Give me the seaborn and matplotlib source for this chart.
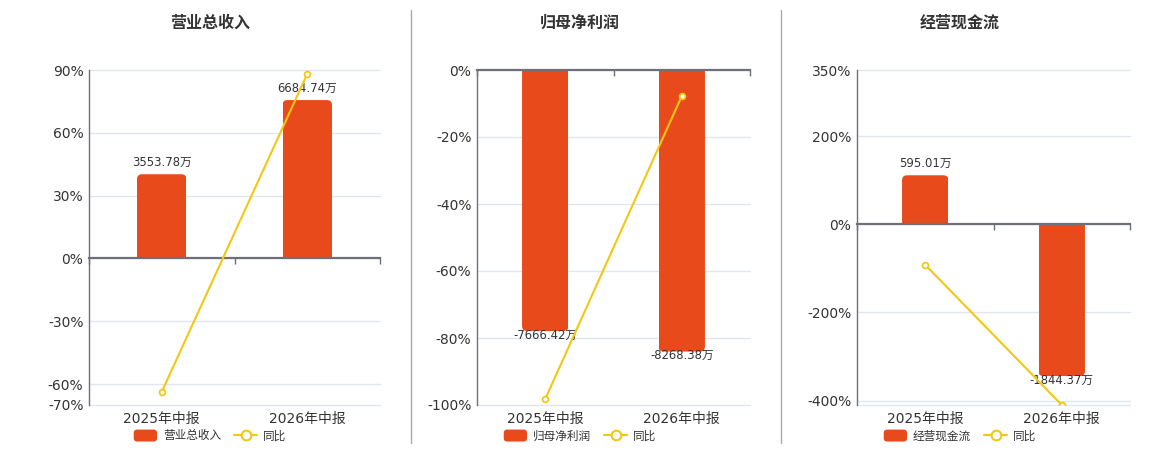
import numpy as np
import seaborn as sns
import matplotlib.pyplot as plt
from matplotlib.patches import Patch, FancyBboxPatch
from matplotlib.lines import Line2D
from matplotlib.legend_handler import HandlerPatch

# ---------------------------------
# Data
# ---------------------------------
categories = ['2025年中报', '2026年中报']
titles = ['营业总收入', '归母净利润', '经营现金流']

revenue = [3553.78, 6684.74]
revenue_yoy = [-63.7, 88.1]
profit = [-7666.42, -8268.38]
profit_yoy = [-98.2, -7.8]
cashflow = [595.01, -1844.37]
cashflow_yoy = [-92.0, -410.0]

# y-axis (percent) limits and ticks per panel
limits = [(-70, 90), (-100, 0), (-410, 350)]
yticks = [[90, 60, 30, 0, -30, -60, -70],
          [0, -20, -40, -60, -80, -100],
          [350, 200, 0, -200, -400, -410]]
hidden_ticks = [[], [], [-410]]

# ---------------------------------
# Style
# ---------------------------------
sns.set_theme(style="white")
plt.rcParams['font.family'] = ['DejaVu Sans', 'Noto Sans CJK SC']

RED = '#E84A1B'
YELLOW = '#F3C712'
AXIS = '#6E7079'
GRID = '#E0E6F1'
TEXT = '#333333'


def rounded_handle(legend, orig_handle, xdescent, ydescent, width, height, fontsize):
    """Rounded rectangle for the bar legend entry."""
    return FancyBboxPatch((-xdescent, -ydescent), width, height,
                          boxstyle="round,pad=0,rounding_size=2.5")


W, H = 1160, 450
fig = plt.figure(figsize=(W / 100, H / 100), dpi=100)

# plot areas in pixels: (left, right), shared top/bottom
areas = [(89, 380), (477, 750), (857, 1130)]
top_px, bottom_px = 70, 405
centers = [210, 580, 960]

panels = [(revenue, revenue_yoy), (profit, profit_yoy), (cashflow, cashflow_yoy)]

for i, ((vals, yoy), (lo, hi), (l_px, r_px)) in enumerate(zip(panels, limits, areas)):
    rect = [l_px / W, 1 - bottom_px / H, (r_px - l_px) / W, (bottom_px - top_px) / H]

    # grid / percent axis
    ax = fig.add_axes(rect)
    ax.set_ylim(lo, hi)
    labels = ['' if t in hidden_ticks[i] else f'{t}%' for t in yticks[i]]
    ax.set_yticks(yticks[i], labels)
    ax.grid(axis='y', color=GRID, lw=1)
    ax.grid(axis='x', visible=False)
    for gl in ax.get_ygridlines():
        gl.set_clip_on(False)
    for s in ['top', 'right', 'bottom']:
        ax.spines[s].set_visible(False)
    ax.spines['left'].set_color(AXIS)
    ax.spines['left'].set_linewidth(1)
    ax.tick_params(axis='y', length=0, pad=4, labelsize=10, labelcolor=TEXT)
    ax.tick_params(axis='x', length=0, pad=5, labelsize=10, labelcolor=TEXT)

    # bars on a hidden secondary scale, zero aligned
    axb = ax.twinx()
    sns.barplot(x=categories, y=vals, ax=axb, color=RED, saturation=1,
                width=0.34, linewidth=0)
    ext = max(abs(v) for v in vals) * 1.19
    span = max(abs(lo), abs(hi))
    sec_lo, sec_hi = lo * ext / span, hi * ext / span
    axb.set_ylim(sec_lo, sec_hi)
    axb.set_xlim(-0.5, len(categories) - 0.5)
    axb.set_yticks([])
    axb.set_ylabel('')
    for s in axb.spines.values():
        s.set_visible(False)

    # rounded outer corners
    xpp = len(categories) / (r_px - l_px)
    ypp = (sec_hi - sec_lo) / (bottom_px - top_px)
    r = 5
    for bar, v in zip(axb.patches, vals):
        x0, w = bar.get_x(), bar.get_width()
        if v >= 0:
            y0, hh = -r * ypp, v + r * ypp
        else:
            y0, hh = v, -v + r * ypp
        clip = FancyBboxPatch((x0, y0), w, hh,
                              boxstyle=f"round,pad=0,rounding_size={r * xpp}",
                              mutation_aspect=ypp / xpp,
                              transform=axb.transData)
        bar.set_clip_path(clip)
        off = 8.3 if v >= 0 else -2.9
        axb.annotate(f'{v:.2f}万', xy=(x0 + w / 2, v), xytext=(0, off),
                     textcoords='offset points', ha='center', va='center',
                     fontsize=8.4, color=TEXT)

    # yoy line on top
    axl = ax.twinx()
    axl.set_ylim(lo, hi)
    sns.lineplot(x=np.arange(len(categories)), y=yoy, ax=axl, color=YELLOW,
                 lw=1.5, marker='o', markersize=4.2, markerfacecolor='white',
                 markeredgecolor=YELLOW, markeredgewidth=1.3, sort=False)
    axl.set_yticks([])
    axl.set_ylabel('')
    for s in axl.spines.values():
        s.set_visible(False)

    # zero line with category boundary ticks
    zero = axl.secondary_xaxis((0 - lo) / (hi - lo))
    zero.set_alignment('bottom')
    zero.set_xticks(np.arange(len(categories) + 1) - 0.5, [])
    zero.spines['bottom'].set_color(AXIS)
    zero.spines['bottom'].set_linewidth(1.6)
    zero.spines['top'].set_visible(False)
    zero.tick_params(axis='x', length=4, width=1, color=AXIS, direction='out')

    ax.set_xticks(np.arange(len(categories)), categories)
    ax.set_xlim(-0.5, len(categories) - 0.5)

    # title
    fig.text(centers[i] / W, 1 - 23 / H, titles[i], ha='center', va='center',
             fontsize=11.5, fontweight='bold', color=TEXT)

    # legend
    handles = [Patch(facecolor=RED, edgecolor='none'),
               Line2D([], [], color=YELLOW, lw=1.5, marker='o', markersize=7,
                      markerfacecolor='white', markeredgecolor=YELLOW,
                      markeredgewidth=1.5)]
    leg = ax.legend(handles, [titles[i], '同比'], loc='center', ncol=2,
                    bbox_to_anchor=(centers[i] / W, 1 - 436 / H),
                    bbox_transform=fig.transFigure, frameon=False,
                    fontsize=8.4, handlelength=2.0, handleheight=1.2,
                    handletextpad=0.5, columnspacing=1.1, borderpad=0,
                    handler_map={Patch: HandlerPatch(patch_func=rounded_handle)})
    for t in leg.get_texts():
        t.set_color(TEXT)

# separators
for x in [410.5, 780.5]:
    fig.add_artist(Line2D([x / W, x / W], [1 - 443 / H, 1 - 10 / H],
                          color='#AAAAAA', lw=1, transform=fig.transFigure))

fig.savefig('out.png', dpi=100)
